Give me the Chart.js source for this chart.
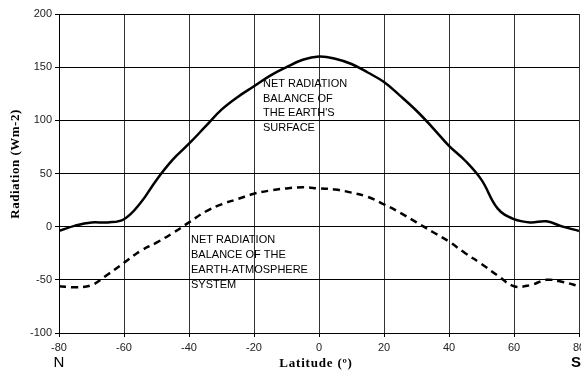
<!DOCTYPE html>
<html>
<head>
<meta charset="utf-8">
<script src="https://cdn.jsdelivr.net/npm/chart.js@4/dist/chart.umd.min.js"></script>
<style>
  html, body { margin: 0; padding: 0; background: #fff; }
  #wrap { width: 581px; height: 373px; }
</style>
</head>
<body>
<div id="wrap"><canvas id="chart" width="581" height="373"></canvas></div>
<script>
const latitudes = [-80, -75, -70, -65, -60, -55, -50, -45, -40, -35, -30, -25, -20, -15, -10, -5, 0,
                   5, 10, 15, 20, 25, 30, 35, 40, 45, 50, 55, 60, 65, 70, 75, 80];
const surfaceBalance = [-4, 1, 4, 4, 7, 22, 44, 63, 78, 94, 110, 122, 132, 142, 150, 157, 160,
                        158, 153, 145, 136, 123, 109, 93, 76, 62, 44, 17, 7, 4, 5, 0, -4];
const systemBalance = [-56, -57, -55, -45, -34, -23, -15, -6, 4, 14, 21, 26, 31, 34, 36, 37, 36,
                       35, 32, 28, 21, 13, 4, -5, -14, -25, -35, -46, -56, -55, -50, -52, -56];
const yTicks = [-100, -50, 0, 50, 100, 150, 200];
const xTicks = [-80, -60, -40, -20, 0, 20, 40, 60, 80];

const toPoints = vals => latitudes.map((lat, i) => ({ x: lat, y: vals[i] }));

const textPlugin = {
  id: 'labels',
  afterDraw(chart) {
    const ctx = chart.ctx;
    ctx.save();
    ctx.fillStyle = '#000';
    ctx.textBaseline = 'middle';
    ctx.textAlign = 'left';
    ctx.font = '11px "Liberation Sans", Arial, sans-serif';
    const surf = ['NET RADIATION', 'BALANCE OF', "THE EARTH'S", 'SURFACE'];
    surf.forEach((t, i) => ctx.fillText(t, 263, 84 + i * 14.5));
    const sys = ['NET RADIATION', 'BALANCE OF THE', 'EARTH-ATMOSPHERE', 'SYSTEM'];
    sys.forEach((t, i) => ctx.fillText(t, 191, 240 + i * 15));

    ctx.textAlign = 'center';
    ctx.font = '15px "Liberation Sans", Arial, sans-serif';
    ctx.fillText('N', 59, 363);
    ctx.font = 'bold 15px "Liberation Sans", Arial, sans-serif';
    ctx.fillText('S', 576, 363);

    ctx.letterSpacing = '0.8px';
    ctx.font = 'bold 13px "Liberation Serif", "Times New Roman", serif';
    ctx.fillText('Latitude (º)', 316, 364);

    ctx.letterSpacing = '0.5px';
    ctx.translate(16, 164);
    ctx.rotate(-Math.PI / 2);
    ctx.fillText('Radiation (Wm-2)', 0, 0);
    ctx.restore();
  }
};

new Chart(document.getElementById('chart').getContext('2d'), {
  type: 'line',
  data: {
    datasets: [{
      label: 'Earth surface',
      data: toPoints(surfaceBalance),
      borderColor: '#000',
      borderWidth: 2.5,
      pointRadius: 0,
      tension: 0.4,
      fill: false
    }, {
      label: 'Earth-atmosphere system',
      data: toPoints(systemBalance),
      borderColor: '#000',
      borderWidth: 2.5,
      borderDash: [7, 5],
      pointRadius: 0,
      tension: 0.4,
      fill: false
    }]
  },
  options: {
    responsive: false,
    animation: false,
    layout: { padding: { left: 0, right: 2, top: 14, bottom: 0 } },
    plugins: {
      legend: { display: false },
      tooltip: { enabled: false }
    },
    scales: {
      x: {
        type: 'linear',
        min: -80,
        max: 80,
        afterBuildTicks: s => { s.ticks = xTicks.map(v => ({ value: v })); },
        afterFit: s => { s.height = 40; s.paddingLeft = 0; s.paddingRight = 0; },
        grid: { color: '#333', tickColor: '#000', tickLength: 4, lineWidth: 1 },
        border: { color: '#000' },
        ticks: {
          color: '#222',
          padding: 4,
          maxRotation: 0,
          font: { family: '"Liberation Sans", Arial, sans-serif', size: 11 }
        }
      },
      y: {
        min: -100,
        max: 200,
        afterBuildTicks: s => { s.ticks = yTicks.map(v => ({ value: v })); },
        afterFit: s => { s.width = 59; s.paddingTop = 0; s.paddingBottom = 0; },
        grid: { color: '#000', tickColor: '#000', tickLength: 4, lineWidth: 1 },
        border: { color: '#000' },
        ticks: {
          color: '#222',
          padding: 3,
          font: { family: '"Liberation Sans", Arial, sans-serif', size: 11 }
        }
      }
    }
  },
  plugins: [textPlugin]
});
</script>
</body>
</html>
